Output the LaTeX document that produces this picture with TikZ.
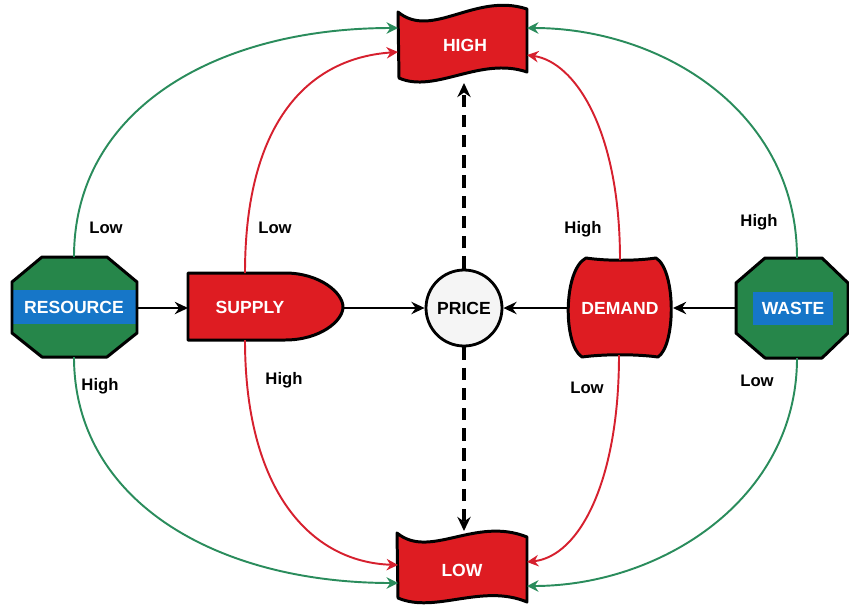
\documentclass[tikz,border=0pt]{standalone}
\usepackage{fontspec}
\setmainfont{Liberation Sans}
\usetikzlibrary{arrows.meta}
\definecolor{flagred}{RGB}{222,28,34}
\definecolor{octgreen}{RGB}{38,134,74}
\definecolor{boxblue}{RGB}{22,118,200}
\definecolor{lngreen}{RGB}{42,140,92}
\definecolor{lnred}{RGB}{214,32,46}
\tikzset{
  shapeline/.style={draw=black,line width=1.7pt,line join=round},
  wtext/.style={text=white,font=\fontsize{10}{11}\selectfont\bfseries,inner sep=0pt},
  lbl/.style={font=\fontsize{9.5}{11}\selectfont\bfseries,inner sep=0pt},
  blk/.style={draw=black,line width=1.2pt,-{Stealth[length=7.5pt,width=7pt]}},
  dsh/.style={draw=black,line width=1.8pt,dash pattern=on 7pt off 4.5pt,-{Stealth[length=8pt,width=7.5pt]}},
  gcurve/.style={draw=lngreen,line width=1.1pt,-{Stealth[length=6.5pt,width=6.5pt]}},
  rcurve/.style={draw=lnred,line width=1.1pt,-{Stealth[length=6.5pt,width=6.5pt]}},
}
\begin{document}
\begin{tikzpicture}[x=0.02cm,y=-0.02cm]
\useasboundingbox (0,0) rectangle (849,606);

% HIGH flag
\path[fill=flagred,shapeline] (398,12) .. controls (432,40) and (475,-8) .. (527,9)
  -- (527,72) .. controls (480,56) and (435,94) .. (399,78) -- cycle;
\node[wtext] (high) at (465,45) {HIGH};
% LOW flag
\path[fill=flagred,shapeline] (397,533) .. controls (430,560) and (475,516) .. (527,537)
  -- (527,602) .. controls (482,583) and (435,614) .. (398,598) -- cycle;
\node[wtext] (low) at (462,570) {LOW};

% RESOURCE octagon
\path[fill=octgreen] (42,257) -- (107,257) -- (137,282) -- (137,333) -- (107,357) -- (42,357) -- (12,333) -- (12,282) -- cycle;
\fill[boxblue] (12,290) rectangle (137,324);
\path[shapeline] (42,257) -- (107,257) -- (137,282) -- (137,333) -- (107,357) -- (42,357) -- (12,333) -- (12,282) -- cycle;
\node[wtext] (resource) at (74,307) {RESOURCE};

% WASTE octagon
\path[fill=octgreen,shapeline] (765,258) -- (822,258) -- (848,283) -- (848,333) -- (822,358) -- (765,358) -- (736,333) -- (736,283) -- cycle;
\fill[boxblue] (753,292) rectangle (833,325);
\node[wtext] (waste) at (793,308) {WASTE};

% SUPPLY
\path[fill=flagred,shapeline] (188,273) -- (285,273) .. controls (320,273) and (343,293) .. (343,307)
  .. controls (343,321) and (320,340) .. (285,340) -- (188,340) -- cycle;
\node[wtext] (supply) at (250,307) {SUPPLY};

% DEMAND
\path[fill=flagred,shapeline] (586,258) .. controls (606,261) and (636,261) .. (656,258)
  .. controls (676,270) and (676,345) .. (658,357) .. controls (636,354) and (604,354) .. (582,357)
  .. controls (563,345) and (563,270) .. (586,258) -- cycle;
\node[wtext] (demand) at (620,308) {DEMAND};

% PRICE
\node[circle,draw=black,line width=1.6pt,fill=black!4,minimum size=1.52cm,inner sep=0pt,
  font=\fontsize{10}{11}\selectfont\bfseries] (price) at (464,308) {PRICE};

% anchors
\coordinate (resE) at (137,308);
\coordinate (resN) at (74,257);
\coordinate (resS) at (74,357);
\coordinate (supW) at (188,308);
\coordinate (supE) at (343,308);
\coordinate (supN) at (245,273);
\coordinate (supS) at (245,340);
\coordinate (demW) at (567,308);
\coordinate (demE) at (673,308);
\coordinate (demN) at (620,260);
\coordinate (demS) at (619,355);
\coordinate (wasW) at (736,308);
\coordinate (wasN) at (797,258);
\coordinate (wasS) at (797,358);
\coordinate (highB) at (464,83);
\coordinate (highLg) at (398,28);
\coordinate (highLr) at (398,52);
\coordinate (highRg) at (527,28);
\coordinate (highRr) at (527,55);
\coordinate (lowT) at (464,531);
\coordinate (lowLg) at (398,583);
\coordinate (lowLr) at (398,565);
\coordinate (lowRg) at (527,586);
\coordinate (lowRr) at (527,562);

% horizontal black arrows
\draw[blk] (resE) -- (supW);
\draw[blk] (supE) -- (price.west);
\draw[blk] (demW) -- (price.east);
\draw[blk] (wasW) -- (demE);

% dashed
\draw[dsh] (price.north) -- (highB);
\draw[dsh] (price.south) -- (lowT);

% green curves
\draw[gcurve] (resN) .. controls (74,110) and (215,28) .. (highLg);
\draw[gcurve] (resS) .. controls (74,500) and (215,583) .. (lowLg);
\draw[gcurve] (wasN) .. controls (797,110) and (660,28) .. (highRg);
\draw[gcurve] (wasS) .. controls (797,500) and (660,586) .. (lowRg);

% red curves
\draw[rcurve] (supN) .. controls (245,120) and (310,58) .. (highLr);
\draw[rcurve] (supS) .. controls (245,490) and (310,562) .. (lowLr);
\draw[rcurve] (demN) .. controls (620,130) and (575,62) .. (highRr);
\draw[rcurve] (demS) .. controls (619,480) and (580,556) .. (lowRr);

% labels
\node[lbl] (l1) at (106,228) {Low};
\node[lbl] (l2) at (100,386) {High};
\node[lbl] (l3) at (275,228) {Low};
\node[lbl] (l4) at (284,380) {High};
\node[lbl] (l5) at (583,229) {High};
\node[lbl] (l6) at (587,388) {Low};
\node[lbl] (l7) at (759,222) {High};
\node[lbl] (l8) at (757,381) {Low};
\end{tikzpicture}
\end{document}
